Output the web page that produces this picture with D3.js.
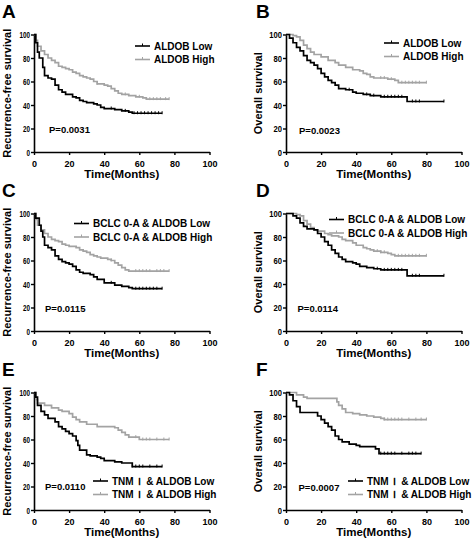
<!DOCTYPE html>
<html><head><meta charset="utf-8">
<script src="https://cdn.jsdelivr.net/npm/d3@7"></script>
<style>
body{margin:0;background:#fff}
text{font-family:"Liberation Sans",Arial,sans-serif;font-weight:bold;fill:#000;white-space:pre}
</style></head>
<body><svg id="c" width="472" height="541"></svg>
<script>
// ---- data: [time (months), survival %] step points ----
const xTicks = [0, 20, 40, 60, 80, 100];
const yTicks = [0, 20, 40, 60, 80, 100];

const aLow  = [[0,100],[1,93],[2,85],[3,80],[5,72],[6,65],[8,63],[10,62],[12,57],[14,53],[16,51],[18,49],[22,47],[24,46],[26,44],[28,43],[30,42],[34,41],[36,40],[38,38],[40,37],[46,36],[50,35],[54,34],[56,33],[73,33]];
const aHigh = [[0,100],[1,95],[2,90],[4,86],[6,83],[8,80],[10,78],[12,76],[14,73],[16,72],[18,71],[20,70],[22,68],[24,67],[26,65],[28,64],[30,63],[32,62],[34,60],[36,58],[40,57],[42,56],[44,54],[46,52],[48,50],[50,49],[54,48],[58,47],[62,46],[64,45],[77,45]];
const bLow  = [[0,100],[2,97],[4,93],[6,89],[8,86],[10,82],[12,78],[14,76],[16,74],[18,71],[20,67],[22,64],[24,61],[26,59],[28,57],[30,54],[34,53],[38,51],[40,50],[44,49],[48,48],[54,47],[69,43],[90,43]];
const bHigh = [[0,100],[4,99],[6,98],[8,95],[10,91],[12,88],[14,85],[16,83],[20,81],[24,78],[28,76],[30,74],[34,72],[38,70],[42,69],[44,67],[46,66],[48,64],[50,63],[58,62],[62,61],[64,59],[80,59]];
const cLow  = [[0,100],[1,96],[3,90],[4,85],[5,80],[6,73],[8,71],[10,69],[12,64],[14,61],[16,59],[18,58],[20,57],[22,55],[24,52],[26,50],[28,49],[32,48],[34,46],[36,44],[40,41],[46,39],[50,38],[54,37],[56,36],[73,36]];
const cHigh = [[0,100],[1,95],[2,90],[4,86],[6,83],[8,80],[10,78],[12,77],[14,76],[16,74],[18,73],[20,72],[24,71],[26,69],[28,68],[30,67],[32,65],[34,64],[36,63],[38,62],[42,61],[44,60],[46,58],[48,56],[50,54],[52,52],[54,51],[77,51]];
const dLow  = [[0,100],[4,98],[6,96],[8,92],[10,89],[12,87],[16,86],[18,83],[20,80],[22,76],[24,73],[26,69],[28,66],[30,63],[32,61],[34,59],[38,58],[40,57],[42,55],[46,54],[50,53],[54,52],[69,47],[90,47]];
const dHigh = [[0,100],[6,99],[8,98],[10,94],[12,91],[14,88],[16,86],[18,85],[22,83],[24,82],[26,81],[30,80],[32,78],[34,77],[38,75],[40,73],[44,71],[46,70],[48,69],[50,68],[54,67],[58,66],[60,65],[62,64],[80,64]];
const eLow  = [[0,100],[1,96],[2,89],[4,84],[6,81],[8,78],[12,75],[14,71],[16,69],[18,67],[20,65],[22,63],[24,59],[25,55],[26,51],[30,47],[32,46],[36,45],[38,44],[40,42],[46,41],[50,40],[56,37],[73,37]];
const eHigh = [[0,100],[1,94],[2,91],[6,89],[10,87],[14,85],[16,84],[20,82],[22,79],[24,77],[26,75],[30,73],[36,71],[46,70],[48,68],[50,66],[52,64],[54,62],[60,60],[77,60]];
const fLow  = [[0,100],[2,98],[4,93],[6,88],[8,83],[18,80],[20,77],[22,74],[24,71],[26,68],[28,63],[30,60],[32,58],[36,56],[40,55],[42,54],[51,52],[53,48],[77,48]];
const fHigh = [[0,100],[6,98],[10,96],[12,95],[29,92],[30,89],[32,86],[34,83],[38,82],[42,81],[46,80],[50,79],[54,78],[56,77],[80,77]];

// censored times
const aLowC  = [44,52,57,59,61,63,65,67,69,71,73];
const aHighC = [36,52,60,66,68,70,72,75,77];
const bLowC  = [36,46,50,56,58,60,62,64,66,72,74,76,90];
const bHighC = [54,56,60,66,68,70,72,74,76,80];
const cLowC  = [44,58,60,62,64,66,68,70,73];
const cHighC = [44,58,60,62,64,66,70,72,74,77];
const dLowC  = [52,56,58,60,62,64,66,72,74,76,90];
const dHighC = [52,54,56,64,66,68,70,72,74,76,80];
const eLowC  = [56,58,60,62,66,70,73];
const eHighC = [54,58,62,64,66,70,74,77];
const fLowC  = [54,56,58,60,62,66,70,72,74,77];
const fHighC = [56,58,60,62,64,66,70,74,77,80];

const pValues = ["P=0.0031","P=0.0023","P=0.0115","P=0.0114","P=0.0110","P=0.0007"];
const lowLabels  = ["ALDOB Low","ALDOB Low","BCLC 0-A & ALDOB Low","BCLC 0-A & ALDOB Low","TNM\u2009\u00a0Ⅰ\u2009\u00a0& ALDOB Low","TNM\u2009\u00a0Ⅰ\u2009\u00a0& ALDOB Low"];
const highLabels = ["ALDOB High","ALDOB High","BCLC 0-A & ALDOB High","BCLC 0-A & ALDOB High","TNM\u2009\u00a0Ⅰ\u2009\u00a0& ALDOB High","TNM\u2009\u00a0Ⅰ\u2009\u00a0& ALDOB High"];
const yTitles = ["Recurrence-free survival","Overall survival","Recurrence-free survival","Overall survival","Recurrence-free survival","Overall survival"];
const letters = ["A","B","C","D","E","F"];

// ---- layout ----
const panels = [
  {low:aLow, high:aHigh, lowC:aLowC, highC:aHighC, left:34, top:34.5, leg:[101,11.5], p:[15,98], ysx:0.7},
  {low:bLow, high:bHigh, lowC:bLowC, highC:bHighC, left:286, top:34.5, leg:[98,8.5], p:[13,99], ysx:0.85},
  {low:cLow, high:cHigh, lowC:cLowC, highC:cHighC, left:34, top:213.5, leg:[40,10], p:[11,98], ysx:0.7},
  {low:dLow, high:dHigh, lowC:dLowC, highC:dHighC, left:286, top:213.5, leg:[43,6], p:[11.5,98], ysx:0.85},
  {low:eLow, high:eHigh, lowC:eLowC, highC:eHighC, left:34, top:392.5, leg:[59,88.5], p:[11,97.5], ysx:0.7},
  {low:fLow, high:fHigh, lowC:fLowC, highC:fHighC, left:286, top:392.5, leg:[62,88.5], p:[12.5,98.5], ysx:0.85}
];
const W = 175.5, H = 117.5;
const GRAY = "#a3a3a3";
const svg = d3.select("#c");

function stepVal(data, t){
  let v = data[0][1];
  for (const d of data) { if (d[0] <= t) v = d[1]; }
  return v;
}

panels.forEach((P, i) => {
  const col = i % 2;
  const g = svg.append("g").attr("transform", `translate(${P.left},${P.top})`);
  const x = d3.scaleLinear().domain([0,100]).range([0,W]);
  const y = d3.scaleLinear().domain([0,100]).range([H,0]);

  // panel letter
  svg.append("text").attr("x", col ? 256 : 2).attr("y", P.top - 16.5)
    .attr("font-size", 19).text(letters[i]);

  // axes
  const xa = g.append("g").attr("transform", `translate(0,${H})`)
    .call(d3.axisBottom(x).tickValues(xTicks).tickSize(3).tickSizeOuter(0));
  const ya = g.append("g")
    .call(d3.axisLeft(y).tickValues(yTicks).tickSize(3).tickSizeOuter(0));
  [xa, ya].forEach(a => {
    a.select(".domain").attr("stroke", "#000").attr("stroke-width", 1.6);
    a.selectAll(".tick line").attr("stroke", "#000").attr("stroke-width", 1.4);
    a.selectAll("text").attr("font-size", 9).attr("font-family", '"Liberation Sans",Arial,sans-serif').attr("font-weight","bold");
  });
  xa.selectAll("text").attr("dy", "0.95em");
  ya.selectAll(".tick text").attr("dy", "0.35em").attr("x", 0)
    .attr("transform", `translate(-4,0) scale(${P.ysx},1)`);

  // axis titles
  g.append("text").attr("x", W/2).attr("y", H + 25.5).attr("text-anchor","middle")
    .attr("font-size", 11.5).text("Time(Months)");
  const ytx = col ? -24 : -23;
  g.append("text").attr("transform", `translate(${ytx},${H/2}) rotate(-90)`)
    .attr("text-anchor","middle").attr("font-size", 11).text(yTitles[i]);

  const line = d3.line().x(d => x(d[0])).y(d => y(d[1])).curve(d3.curveStepAfter);
  [[P.high, P.highC, GRAY], [P.low, P.lowC, "#000"]].forEach(([data, cens, color]) => {
    g.append("path").datum(data).attr("d", line).attr("fill","none")
      .attr("stroke", color).attr("stroke-width", 1.7);
    g.selectAll(null).data(cens).enter().append("line")
      .attr("x1", d => x(d)).attr("x2", d => x(d))
      .attr("y1", d => y(stepVal(data, d)) - 2).attr("y2", d => y(stepVal(data, d)) + 1)
      .attr("stroke", color).attr("stroke-width", 1);
  });

  // legend
  const [lx, ly] = P.leg;
  [[lowLabels[i], "#000", 0], [highLabels[i], GRAY, 13.5]].forEach(([lab, color, dy]) => {
    g.append("line").attr("x1", lx).attr("x2", lx + 15).attr("y1", ly + dy).attr("y2", ly + dy)
      .attr("stroke", color).attr("stroke-width", 1.6);
    g.append("line").attr("x1", lx + 7.5).attr("x2", lx + 7.5).attr("y1", ly + dy - 2.5).attr("y2", ly + dy)
      .attr("stroke", color).attr("stroke-width", 1);
    g.append("text").attr("x", lx + 19).attr("y", ly + dy + 3.6).attr("font-size", 10).text(lab);
  });

  // p value
  g.append("text").attr("x", P.p[0]).attr("y", P.p[1]).attr("font-size", 9.5).text(pValues[i]);
});
</script></body></html>
